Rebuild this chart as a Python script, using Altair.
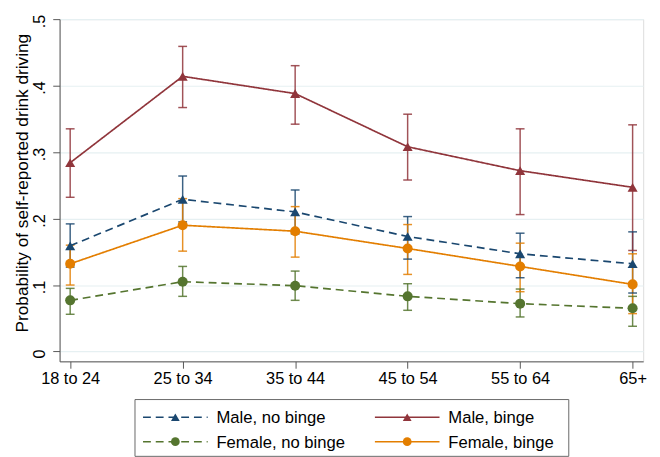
import altair as alt
import pandas as pd

categories = ["18 to 24", "25 to 34", "35 to 44", "45 to 54", "55 to 64", "65+"]
series_names = ["Male, no binge", "Male, binge", "Female, no binge", "Female, binge"]

male_nobinge_est = [0.159, 0.229, 0.210, 0.173, 0.147, 0.132]
male_nobinge_lo = [0.127, 0.195, 0.177, 0.139, 0.111, 0.088]
male_nobinge_hi = [0.192, 0.264, 0.243, 0.203, 0.178, 0.180]

male_binge_est = [0.284, 0.414, 0.388, 0.308, 0.272, 0.247]
male_binge_lo = [0.232, 0.367, 0.342, 0.258, 0.206, 0.152]
male_binge_hi = [0.335, 0.459, 0.430, 0.357, 0.335, 0.341]

female_nobinge_est = [0.077, 0.105, 0.099, 0.083, 0.072, 0.065]
female_nobinge_lo = [0.056, 0.083, 0.077, 0.062, 0.052, 0.038]
female_nobinge_hi = [0.095, 0.128, 0.121, 0.102, 0.094, 0.083]

female_binge_est = [0.132, 0.190, 0.181, 0.155, 0.128, 0.101]
female_binge_lo = [0.100, 0.151, 0.142, 0.116, 0.090, 0.057]
female_binge_hi = [0.160, 0.230, 0.218, 0.191, 0.163, 0.147]

colors = ["#1a476f", "#90353b", "#55752f", "#e37e00"]
shapes = ["triangle-up", "triangle-up", "circle", "circle"]
dashes = [[8, 5], [1, 0], [8, 5], [1, 0]]

legend_cols = [0, 1, 0, 1]
legend_rows = [0, 0, 1, 1]

all_series = [
    (male_nobinge_est, male_nobinge_lo, male_nobinge_hi),
    (male_binge_est, male_binge_lo, male_binge_hi),
    (female_nobinge_est, female_nobinge_lo, female_nobinge_hi),
    (female_binge_est, female_binge_lo, female_binge_hi),
]

rows = []
for name, (est, lo, hi) in zip(series_names, all_series):
    for c, e, l, h in zip(categories, est, lo, hi):
        rows.append(dict(series=name, cat=c, est=e, lo=l, hi=h))
df = pd.DataFrame(rows)

leg_df = pd.DataFrame(dict(series=series_names, col=legend_cols, row=legend_rows))

FONT = "Liberation Sans"

color = alt.Color("series:N", scale=alt.Scale(domain=series_names, range=colors), legend=None)
shape = alt.Shape("series:N", scale=alt.Scale(domain=series_names, range=shapes), legend=None)
dash = alt.StrokeDash("series:N", scale=alt.Scale(domain=series_names, range=dashes), legend=None)

x = alt.X(
    "cat:O",
    sort=categories,
    scale=alt.Scale(type="point", padding=0.094),
    axis=alt.Axis(
        title=None, labelAngle=0, labelFontSize=16.7, labelColor="#000", labelFont=FONT,
        tickSize=7, tickColor="#555", domainColor="#555", labelPadding=3, grid=False,
    ),
)
yscale = alt.Scale(domain=[-0.0148, 0.5], nice=False, zero=False)
y_axis = alt.Axis(
    title="Probability of self-reported drink driving",
    titleFontSize=17.6, titleFont=FONT, titleFontWeight="normal", titleColor="#000",
    titlePadding=4, minExtent=25, maxExtent=25, titleY=167,
    values=[0, 0.1, 0.2, 0.3, 0.4, 0.5],
    labelExpr="datum.value == 0 ? '0' : replace(format(datum.value, '.1f'), '0.', '.')",
    labelAngle=270, labelAlign="center", labelBaseline="bottom", labelOffset=2,
    labelFontSize=16.5, labelFont=FONT, labelColor="#000", labelPadding=5,
    tickSize=7, tickColor="#555", domainColor="#555",
    grid=True, gridColor="#e6f0f2", gridWidth=1.2,
)

base = alt.Chart(df)
rules = base.mark_rule(strokeWidth=1.5, opacity=0.85).encode(
    x=x, y=alt.Y("lo:Q", scale=yscale, axis=y_axis), y2="hi:Q", color=color
)
cap_lo = base.mark_tick(orient="horizontal", size=9, thickness=1.5, opacity=0.85).encode(
    x=x, y=alt.Y("lo:Q", scale=yscale), color=color
)
cap_hi = base.mark_tick(orient="horizontal", size=9, thickness=1.5, opacity=0.85).encode(
    x=x, y=alt.Y("hi:Q", scale=yscale), color=color
)
lines = base.mark_line(strokeWidth=1.7).encode(
    x=x, y=alt.Y("est:Q", scale=yscale), color=color, strokeDash=dash, detail="series:N"
)
points = base.mark_point(filled=True, size=105, opacity=1).encode(
    x=x, y=alt.Y("est:Q", scale=yscale), color=color, shape=shape
)

main = alt.layer(rules, cap_lo, cap_hi, lines, points).properties(width=596, height=349.5)

lx = alt.X("col:Q", scale=alt.Scale(domain=[0, 1], range=[41.7, 278.5]), axis=None)
ly = alt.Y("row:Q", scale=alt.Scale(domain=[0, 1], range=[18.5, 43.5]), axis=None)
lbase = alt.Chart(leg_df)
leg_line = lbase.mark_rule(strokeWidth=1.5, xOffset=-33, x2Offset=33).encode(
    x=lx, x2="col:Q", y=ly, color=color, strokeDash=dash
)
leg_pt = lbase.mark_point(filled=True, size=80, opacity=1).encode(
    x=lx, y=ly, color=color, shape=shape
)
leg_txt = lbase.mark_text(align="left", baseline="middle", dx=42, dy=1, fontSize=17, font=FONT, color="#000").encode(
    x=lx, y=ly, text="series:N"
)
legend = alt.layer(leg_line, leg_pt, leg_txt).properties(
    width=443, height=58, view=alt.ViewBackground(stroke="#666", strokeWidth=1)
)

chart = alt.vconcat(main, legend, spacing=38, bounds="flush", center=True).properties(
    padding={"top": 0.5, "left": 4.7, "right": 5, "bottom": 5}
).configure_view(stroke="transparent").configure(font=FONT)

chart.save("out.html", embed_options={"renderer": "svg", "actions": False})
